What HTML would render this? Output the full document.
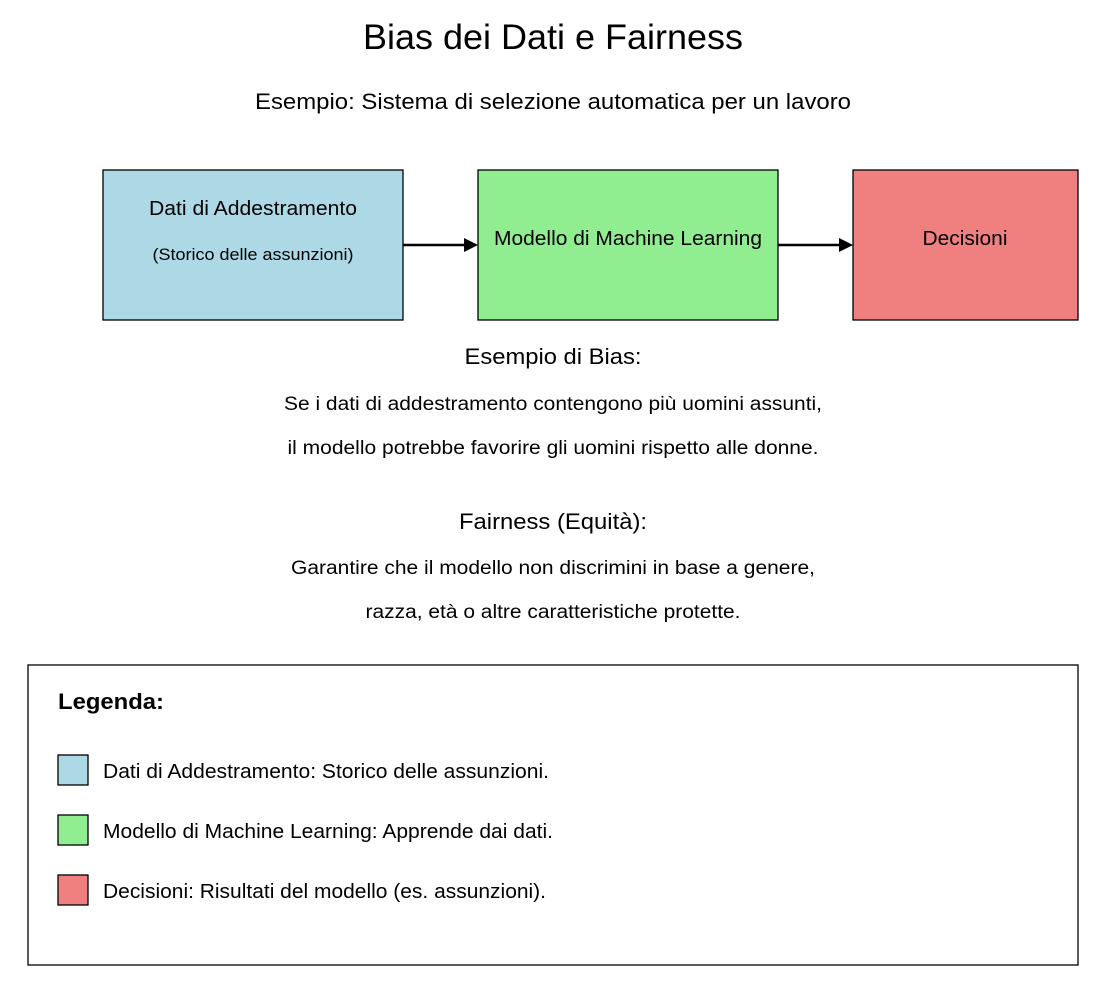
<!DOCTYPE html>
<html><head><meta charset="utf-8"><style>body{margin:0;background:#fff}</style></head>
<body>
<svg width="1118" height="998" viewBox="0 0 1118 998" xmlns="http://www.w3.org/2000/svg" font-family="Liberation Sans, Arial, sans-serif">
<rect width="1118" height="998" fill="#fff"/>
<text x="553" y="49" font-size="35" text-anchor="middle" textLength="380" lengthAdjust="spacingAndGlyphs">Bias dei Dati e Fairness</text>
<text x="553" y="109" font-size="22" text-anchor="middle" textLength="596" lengthAdjust="spacingAndGlyphs">Esempio: Sistema di selezione automatica per un lavoro</text>
<rect x="103" y="170" width="300" height="150" fill="#add8e6" stroke="#000" stroke-width="1.3"/>
<rect x="478" y="170" width="300" height="150" fill="#90ee90" stroke="#000" stroke-width="1.3"/>
<rect x="853" y="170" width="225" height="150" fill="#f08080" stroke="#000" stroke-width="1.3"/>
<text x="253" y="215" font-size="20" text-anchor="middle" textLength="208" lengthAdjust="spacingAndGlyphs">Dati di Addestramento</text>
<text x="253" y="260" font-size="17" text-anchor="middle" textLength="201" lengthAdjust="spacingAndGlyphs">(Storico delle assunzioni)</text>
<text x="628" y="245" font-size="20" text-anchor="middle" textLength="268" lengthAdjust="spacingAndGlyphs">Modello di Machine Learning</text>
<text x="965" y="245" font-size="20" text-anchor="middle" textLength="85" lengthAdjust="spacingAndGlyphs">Decisioni</text>
<line x1="403" y1="245" x2="466" y2="245" stroke="#000" stroke-width="2.5"/>
<polygon points="478,245 464,238 464,252" fill="#000"/>
<line x1="778" y1="245" x2="841" y2="245" stroke="#000" stroke-width="2.5"/>
<polygon points="853,245 839,238 839,252" fill="#000"/>
<text x="553" y="364" font-size="22" text-anchor="middle" textLength="177" lengthAdjust="spacingAndGlyphs">Esempio di Bias:</text>
<text x="553" y="410" font-size="19" text-anchor="middle" textLength="538" lengthAdjust="spacingAndGlyphs">Se i dati di addestramento contengono più uomini assunti,</text>
<text x="553" y="454" font-size="19" text-anchor="middle" textLength="531" lengthAdjust="spacingAndGlyphs">il modello potrebbe favorire gli uomini rispetto alle donne.</text>
<text x="553" y="529" font-size="22" text-anchor="middle" textLength="188" lengthAdjust="spacingAndGlyphs">Fairness (Equità):</text>
<text x="553" y="574" font-size="19" text-anchor="middle" textLength="524" lengthAdjust="spacingAndGlyphs">Garantire che il modello non discrimini in base a genere,</text>
<text x="553" y="618" font-size="19" text-anchor="middle" textLength="375" lengthAdjust="spacingAndGlyphs">razza, età o altre caratteristiche protette.</text>
<rect x="28" y="665" width="1050" height="300" fill="#fff" stroke="#000" stroke-width="1.3"/>
<text x="58" y="709" font-size="22" font-weight="bold" textLength="106" lengthAdjust="spacingAndGlyphs">Legenda:</text>
<rect x="58" y="755" width="30" height="30" fill="#add8e6" stroke="#000" stroke-width="1.3"/>
<text x="103" y="778" font-size="20" textLength="446" lengthAdjust="spacingAndGlyphs">Dati di Addestramento: Storico delle assunzioni.</text>
<rect x="58" y="815" width="30" height="30" fill="#90ee90" stroke="#000" stroke-width="1.3"/>
<text x="103" y="838" font-size="20" textLength="450" lengthAdjust="spacingAndGlyphs">Modello di Machine Learning: Apprende dai dati.</text>
<rect x="58" y="875" width="30" height="30" fill="#f08080" stroke="#000" stroke-width="1.3"/>
<text x="103" y="898" font-size="20" textLength="443" lengthAdjust="spacingAndGlyphs">Decisioni: Risultati del modello (es. assunzioni).</text>
</svg>
</body></html>
